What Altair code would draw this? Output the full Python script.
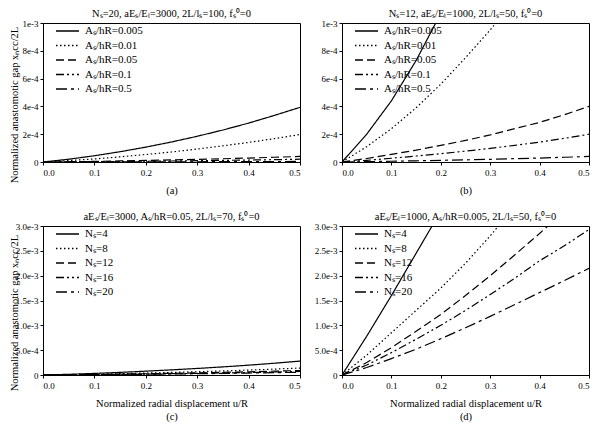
import altair as alt
import pandas as pd

# ---------------- data ----------------
x_vals = [0.0, 0.05, 0.10, 0.15, 0.20, 0.25, 0.30, 0.35, 0.40, 0.45, 0.50]

# Panel (a): Ns=20, aEs/EL=3000, 2L/ls=100  (values x 1e-4)
a_labels = ["Aₛ/hR=0.005", "Aₛ/hR=0.01", "Aₛ/hR=0.05", "Aₛ/hR=0.1", "Aₛ/hR=0.5"]
a_0005 = [0, 0.20, 0.45, 0.74, 1.07, 1.44, 1.85, 2.30, 2.80, 3.35, 3.93]
a_001 = [0, 0.10, 0.22, 0.37, 0.54, 0.72, 0.93, 1.16, 1.41, 1.68, 1.98]
a_005 = [0, 0.02, 0.045, 0.075, 0.11, 0.15, 0.19, 0.235, 0.285, 0.34, 0.40]
a_01 = [0, 0.01, 0.022, 0.037, 0.054, 0.072, 0.093, 0.116, 0.141, 0.168, 0.20]
a_05 = [0, 0.002, 0.0045, 0.0075, 0.011, 0.015, 0.019, 0.024, 0.029, 0.034, 0.04]

# Panel (b): Ns=12, aEs/EL=1000, 2L/ls=50  (values x 1e-4)
b_0005 = [0, 2.0, 4.4, 7.3, 10.7, 14.5, 18.5, 23.0, 28.0, 33.0, 38.0]
b_001 = [0, 1.1, 2.4, 3.9, 5.6, 7.5, 9.5, 11.7, 14.0, 16.5, 19.0]
b_005 = [0, 0.25, 0.55, 0.85, 1.2, 1.55, 1.95, 2.4, 2.85, 3.4, 4.0]
b_01 = [0, 0.12, 0.27, 0.43, 0.6, 0.78, 0.98, 1.2, 1.43, 1.7, 2.0]
b_05 = [0, 0.025, 0.055, 0.085, 0.12, 0.155, 0.195, 0.24, 0.285, 0.34, 0.40]

# Panel (c): aEs/EL=3000, As/hR=0.05, 2L/ls=70  (values x 1e-3)
n_labels = ["Nₛ=4", "Nₛ=8", "Nₛ=12", "Nₛ=16", "Nₛ=20"]
c_4 = [0, 0.014, 0.032, 0.053, 0.077, 0.103, 0.132, 0.163, 0.198, 0.237, 0.28]
c_8 = [0, 0.007, 0.016, 0.027, 0.039, 0.052, 0.066, 0.082, 0.099, 0.118, 0.14]
c_12 = [0, 0.0045, 0.010, 0.017, 0.025, 0.034, 0.043, 0.053, 0.064, 0.077, 0.09]
c_16 = [0, 0.0035, 0.008, 0.013, 0.019, 0.026, 0.033, 0.041, 0.050, 0.060, 0.07]
c_20 = [0, 0.0028, 0.006, 0.010, 0.015, 0.020, 0.026, 0.032, 0.039, 0.047, 0.055]

# Panel (d): aEs/EL=1000, As/hR=0.005, 2L/ls=50  (values x 1e-3)
d_4 = [0, 0.78, 1.6, 2.45, 3.3, 4.2, 5.1, 6.0, 6.9, 7.8, 8.7]
d_8 = [0, 0.40, 0.85, 1.3, 1.75, 2.25, 2.8, 3.4, 4.0, 4.6, 5.2]
d_12 = [0, 0.25, 0.55, 0.88, 1.22, 1.6, 2.0, 2.42, 2.85, 3.3, 3.75]
d_16 = [0, 0.20, 0.45, 0.72, 1.0, 1.3, 1.62, 1.95, 2.3, 2.6, 2.93]
d_20 = [0, 0.15, 0.33, 0.52, 0.73, 0.95, 1.18, 1.42, 1.66, 1.9, 2.15]

dashes = [[1, 0], [1.5, 2.5], [8, 4], [8, 3, 2, 3, 2, 3], [11, 4, 3, 4]]

FONT = "Liberation Serif"


def frame(labels, series, scale):
    rows = []
    for lab, ys in zip(labels, series):
        for xv, yv in zip(x_vals, ys):
            rows.append({"x": xv, "y": yv * scale, "s": lab})
    return pd.DataFrame(rows)


def panel(df, labels, title, ymax, ystep, yexpr, ytitle, xtitle, width, height):
    yticks = [round(i * ystep, 10) for i in range(int(round(ymax / ystep)) + 1)]
    yaxis_kw = dict(values=yticks, labelExpr=yexpr, labelPadding=2)
    if ytitle is not None:
        yaxis_kw["title"] = ytitle
        yaxis_kw["titleX"] = -24
        yaxis_kw["titleY"] = height / 2 + 12
    else:
        yaxis_kw["title"] = None
    return (
        alt.Chart(df)
        .mark_line(clip=True, color="black", strokeWidth=1.2, strokeCap="butt")
        .encode(
            x=alt.X(
                "x:Q",
                scale=alt.Scale(domain=[0, 0.5], nice=False),
                axis=alt.Axis(
                    values=[0, 0.1, 0.2, 0.3, 0.4, 0.5],
                    format=".1f",
                    title=xtitle,
                    titlePadding=8,
                    labelPadding=3,
                ),
            ),
            y=alt.Y(
                "y:Q",
                scale=alt.Scale(domain=[0, ymax], nice=False),
                axis=alt.Axis(**yaxis_kw),
            ),
            strokeDash=alt.StrokeDash(
                "s:N",
                scale=alt.Scale(domain=labels, range=dashes),
                legend=alt.Legend(
                    title=None,
                    orient="none",
                    legendX=12,
                    legendY=2,
                    padding=0,
                    symbolType="stroke",
                    symbolSize=529,
                    symbolStrokeWidth=1.3,
                    symbolStrokeColor="black",
                    labelFont=FONT,
                    labelFontSize=11,
                    labelColor="black",
                    clipHeight=12,
                    rowPadding=2.5,
                    labelOffset=5,
                ),
            ),
            detail="s:N",
        )
        .properties(
            width=width,
            height=height,
            title=alt.TitleParams(
                title, font=FONT, fontSize=10.5, fontWeight="normal", offset=0,
                frame="group", color="black",
            ),
        )
    )


e0 = "datum.value == 0 ? '0' : format(datum.value, '.0e')"
e1 = "datum.value == 0 ? '0' : format(datum.value, '.1e')"
ytit = "Normalized anastomotic gap xₙcc/2L"
xtit_c = ["Normalized radial displacement u/R", "(c)"]
xtit_d = ["Normalized radial displacement u/R", "(d)"]

WA, WB, HT, HB = 257, 247, 139, 149

pa = panel(
    frame(a_labels, [a_0005, a_001, a_005, a_01, a_05], 1e-4), a_labels,
    "Nₛ=20, aEₛ/Eₗ=3000, 2L/lₛ=100, fₛ⁰=0", 1e-3, 2e-4, e0, ytit, "(a)", WA, HT,
)
pb = panel(
    frame(a_labels, [b_0005, b_001, b_005, b_01, b_05], 1e-4), a_labels,
    "Nₛ=12, aEₛ/Eₗ=1000, 2L/lₛ=50, fₛ⁰=0", 1e-3, 2e-4, e0, None, "(b)", WB, HT,
)
pc = panel(
    frame(n_labels, [c_4, c_8, c_12, c_16, c_20], 1e-3), n_labels,
    "aEₛ/Eₗ=3000, Aₛ/hR=0.05, 2L/lₛ=70, fₛ⁰=0", 3e-3, 5e-4, e1, ytit, xtit_c, WA, HB,
)
pd_ = panel(
    frame(n_labels, [d_4, d_8, d_12, d_16, d_20], 1e-3), n_labels,
    "aEₛ/Eₗ=1000, Aₛ/hR=0.005, 2L/lₛ=50, fₛ⁰=0", 3e-3, 5e-4, e1, None, xtit_d, WB, HB,
)

chart = (
    alt.concat(pa, pb, pc, pd_, columns=2, bounds="flush",
               spacing={"row": 64, "column": 42})
    .resolve_scale(strokeDash="independent")
    .configure(padding=0, background="white")
    .configure_view(stroke="black", strokeWidth=1)
    .configure_axis(
        grid=False,
        labelFont=FONT,
        titleFont=FONT,
        labelFontSize=9,
        titleFontSize=10.5,
        titleFontWeight="normal",
        labelColor="black",
        titleColor="black",
        domainColor="black",
        tickColor="black",
        tickSize=3,
        titleLineHeight=13,
    )
)

chart.save("out.html", embed_options={"renderer": "svg", "actions": False})
